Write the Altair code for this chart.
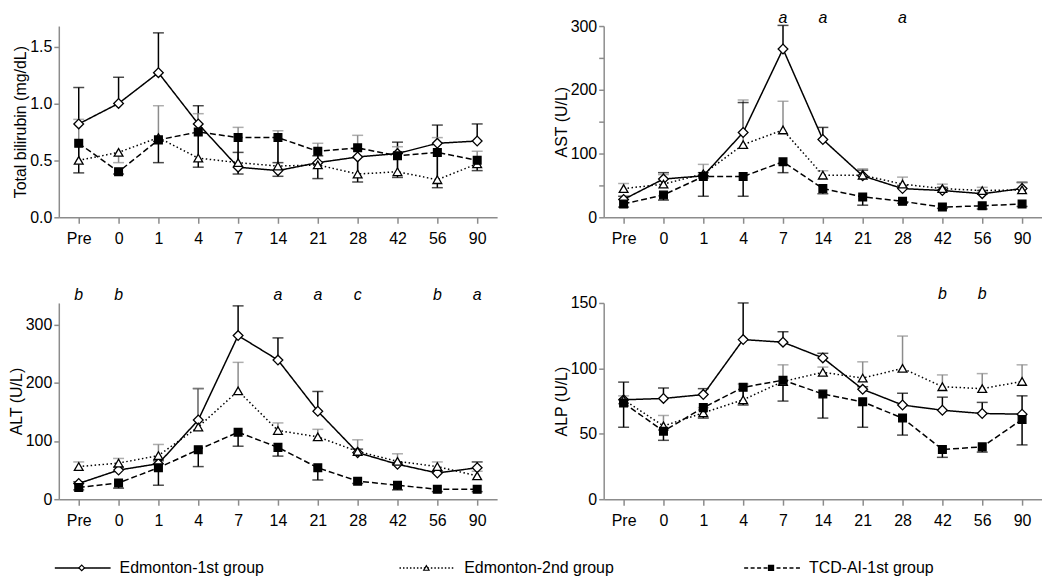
import altair as alt
import pandas as pd

days = ["Pre", "0", "1", "4", "7", "14", "21", "28", "42", "56", "90"]
groups = ["Edmonton-1st group", "Edmonton-2nd group", "TCD-AI-1st group"]

# Total bilirubin (mg/dL)
bili_e1 = [0.82, 1.00, 1.27, 0.82, 0.44, 0.41, 0.48, 0.53, 0.56, 0.65, 0.67]
bili_e1_err = [1.14, 1.23, 1.62, 0.98, 0.57, 0.48, 0.54, 0.60, 0.66, 0.81, 0.82]
bili_e2 = [0.50, 0.57, 0.70, 0.52, 0.48, 0.45, 0.46, 0.38, 0.40, 0.33, 0.47]
bili_e2_err = [0.86, 0.48, 0.98, 0.91, 0.79, 0.76, 0.65, 0.72, 0.62, 0.70, 0.58]
bili_tcd = [0.65, 0.40, 0.68, 0.75, 0.70, 0.70, 0.58, 0.61, 0.54, 0.57, 0.50]
bili_tcd_err = [0.39, 0.38, 0.48, 0.44, 0.38, 0.36, 0.34, 0.31, 0.35, 0.26, 0.41]

# AST (U/L)
ast_e1 = [28, 60, 65, 133, 264, 122, 65, 45, 42, 37, 45]
ast_e1_err = [33, 70, 70, 180, 301, 141, 74, 50, 47, 42, 55]
ast_e2 = [45, 52, 68, 114, 137, 66, 66, 52, 45, 42, 43]
ast_e2_err = [53, 67, 83, 184, 182, 73, 76, 63, 52, 47, 54]
ast_tcd = [21, 35, 64, 64, 87, 45, 32, 25, 16, 18, 21]
ast_tcd_err = [16, 27, 33, 33, 70, 37, 19, 22, 14, 13, 17]
ast_sig_days = ["7", "14", "28"]
ast_sig = ["a", "a", "a"]

# ALT (U/L)
alt_e1 = [27, 50, 61, 136, 281, 239, 151, 80, 60, 45, 54]
alt_e1_err = [30, 55, 66, 190, 332, 277, 185, 86, 63, 48, 64]
alt_e2 = [56, 62, 75, 124, 186, 118, 107, 82, 65, 56, 40]
alt_e2_err = [64, 70, 94, 190, 235, 131, 120, 102, 78, 64, 48]
alt_tcd = [20, 28, 54, 85, 115, 89, 54, 31, 24, 17, 17]
alt_tcd_err = [16, 19, 24, 56, 91, 74, 33, 27, 16, 13, 13]
alt_sig_days = ["Pre", "0", "14", "21", "28", "56", "90"]
alt_sig = ["b", "b", "a", "a", "c", "b", "a"]

# ALP (U/L)
alp_e1 = [76, 77, 80, 122, 120, 108, 84, 72, 68, 65.5, 65]
alp_e1_err = [89.5, 85, 84.5, 150, 128, 111.5, 86, 81, 78, 74, 79]
alp_e2 = [76, 56, 66, 76, 90, 97, 92.6, 100, 86, 84.5, 90]
alp_e2_err = [79, 64, 70, 88, 102.7, 101, 105, 124.7, 95, 96, 102.7]
alp_tcd = [73.6, 52, 70, 85.5, 91, 80.4, 74.4, 62, 38, 40, 61]
alp_tcd_err = [55, 45, 62, 72, 75, 62, 55, 49, 32, 36, 41.5]
alp_sig_days = ["42", "56"]
alp_sig = ["b", "b"]

FONT = "Liberation Sans, Arial, sans-serif"
GRAY = "#8c8c8c"
W = 440


def make_df(series):
    rows = []
    for g, (m, e) in zip(groups, series):
        for d, mv, ev in zip(days, m, e):
            rows.append({"day": d, "group": g, "mean": mv, "err": ev})
    return pd.DataFrame(rows)


def panel(series, title, ymax, ticks, fmt, sig_days, sig, letter_y, h, label_expr=None):
    df = make_df(series)
    ax_kw = dict(title=title, values=ticks, format=fmt, titlePadding=1, labelPadding=2,
                 tickSize=5)
    if label_expr:
        ax_kw["labelExpr"] = label_expr
    yscale = alt.Scale(domain=[0, ymax], nice=False, zero=True)

    def ych(field):
        return alt.Y(field + ":Q", scale=yscale, axis=alt.Axis(**ax_kw))

    x = alt.X("day:N", sort=days, scale=alt.Scale(type="point", padding=0.5),
              axis=alt.Axis(title=None, labelAngle=0, tickSize=6, labelPadding=7))
    err_color = alt.Color("group:N", scale=alt.Scale(domain=groups, range=["#000000", GRAY, "#000000"]),
                          legend=None)
    dash = alt.StrokeDash("group:N", scale=alt.Scale(domain=groups, range=[[1, 0], [1.5, 2.5], [6, 3]]),
                          legend=None)
    shape = alt.Shape("group:N", scale=alt.Scale(domain=groups, range=["diamond", "triangle-up", "square"]),
                      legend=None)
    fill = alt.Fill("group:N", scale=alt.Scale(domain=groups, range=["white", "white", "black"]), legend=None)
    size = alt.Size("group:N", scale=alt.Scale(domain=groups, range=[95, 60, 45]), legend=None)

    base = alt.Chart(df)
    bars = base.mark_rule(strokeWidth=1.5).encode(x=x, y=ych("mean"), y2="err:Q", color=err_color)
    caps = base.mark_tick(thickness=1.5, size=11).encode(x=x, y=ych("err"), color=err_color)
    lines = base.mark_line(strokeWidth=1.5, color="black").encode(
        x=x, y=ych("mean"), strokeDash=dash, detail="group:N",
        order=alt.Order("day_idx:Q"))
    lines = lines.transform_calculate(day_idx="indexof(" + str(days) + ", datum.day)")
    pts = base.mark_point(filled=True, stroke="black", strokeWidth=1.3, opacity=1).encode(
        x=x, y=ych("mean"), shape=shape, fill=fill, size=size)
    layers = [bars, caps, lines, pts]
    if sig_days:
        sdf = pd.DataFrame({"day": sig_days, "sig": sig, "ly": [letter_y] * len(sig_days)})
        txt = alt.Chart(sdf).mark_text(fontStyle="italic", fontSize=16, font=FONT, baseline="middle").encode(
            x=x, y=ych("ly"), text="sig:N")
        layers.append(txt)
    return alt.layer(*layers).properties(width=W, height=h)


p1 = panel([(bili_e1, bili_e1_err), (bili_e2, bili_e2_err), (bili_tcd, bili_tcd_err)],
           "Total bilirubin (mg/dL)", 1.68, [0, 0.5, 1.0, 1.5], ".1f", None, None, None, 192)
p2 = panel([(ast_e1, ast_e1_err), (ast_e2, ast_e2_err), (ast_tcd, ast_tcd_err)],
           "AST (U/L)", 300, [0, 50, 100, 150, 200, 250, 300], "d", ast_sig_days, ast_sig, 313, 192,
           label_expr="datum.value % 100 == 0 ? datum.label : ''")
p3 = panel([(alt_e1, alt_e1_err), (alt_e2, alt_e2_err), (alt_tcd, alt_tcd_err)],
           "ALT (U/L)", 337, [0, 100, 200, 300], "d", alt_sig_days, alt_sig, 350, 197)
p4 = panel([(alp_e1, alp_e1_err), (alp_e2, alp_e2_err), (alp_tcd, alp_tcd_err)],
           "ALP (U/L)", 150, [0, 50, 100, 150], "d", alp_sig_days, alp_sig, 157, 197)

grid = alt.concat(p1, p2, p3, p4, columns=2, spacing={"row": 39, "column": 56})

# legend row
leg_df = pd.DataFrame({"group": groups, "idx": [0, 1, 2]})
lx = alt.X("idx:Q", scale=alt.Scale(domain=[0, 2], nice=False, zero=False), axis=None)
l_dash = alt.StrokeDash("group:N", scale=alt.Scale(domain=groups, range=[[1, 0], [1.5, 2], [4, 2.5]]),
                        legend=None)
l_shape = alt.Shape("group:N", scale=alt.Scale(domain=groups, range=["diamond", "triangle-up", "square"]),
                    legend=None)
l_fill = alt.Fill("group:N", scale=alt.Scale(domain=groups, range=["white", "white", "black"]), legend=None)
l_size = alt.Size("group:N", scale=alt.Scale(domain=groups, range=[32, 26, 22]), legend=None)
lb = alt.Chart(leg_df)
leg_line = lb.mark_rule(strokeWidth=1.5, color="black", xOffset=-4, x2Offset=52).encode(
    x=lx, x2="idx:Q", y=alt.value(6), strokeDash=l_dash)
leg_pt = lb.mark_point(filled=True, stroke="black", strokeWidth=1.2, opacity=1, xOffset=23).encode(
    x=lx, y=alt.value(6), shape=l_shape, fill=l_fill, size=l_size)
leg_txt = lb.mark_text(align="left", baseline="middle", fontSize=16, font=FONT, xOffset=61).encode(
    x=lx, y=alt.value(6), text="group:N")
legend = alt.layer(leg_line, leg_pt, leg_txt).properties(width=692, height=12)

chart = alt.vconcat(grid, legend, spacing=32).resolve_scale(
    size="independent", strokeDash="independent"
).properties(
    padding={"left": 0, "top": 0, "right": 0, "bottom": 0}
).configure_view(stroke=None).configure_axis(
    grid=False, domainColor=GRAY, domainWidth=1.5, tickColor=GRAY, tickWidth=1.5,
    labelColor="black", labelFont=FONT, labelFontSize=16, titleFont=FONT, titleFontSize=16,
    titleFontWeight="normal", titleColor="black"
)

chart.save("out.html", embed_options={"renderer": "svg", "actions": False})
